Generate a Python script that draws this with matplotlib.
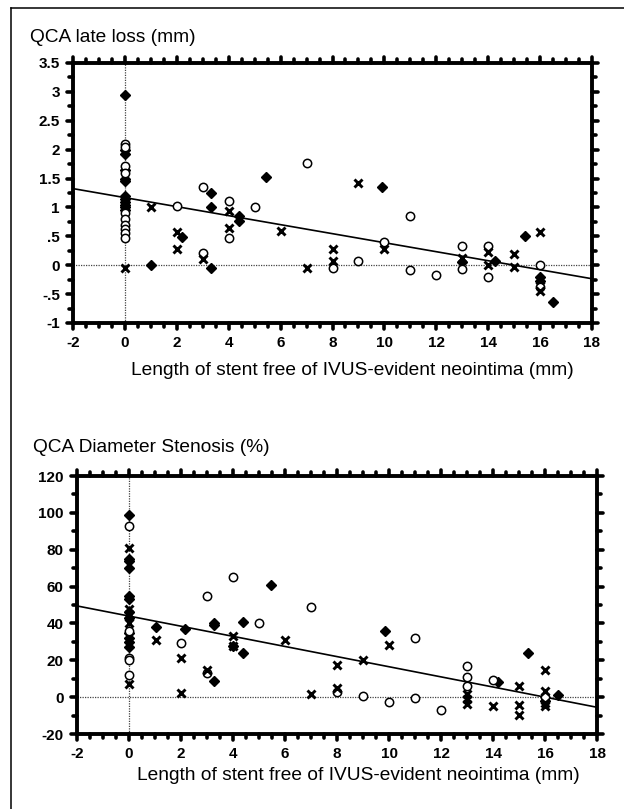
import numpy as np
import matplotlib
matplotlib.use("Agg")
import matplotlib.pyplot as plt
from matplotlib.lines import Line2D
from matplotlib.markers import MarkerStyle
from matplotlib.ticker import MultipleLocator

plt.rcParams['font.family'] = ['Liberation Sans', 'DejaVu Sans']
plt.rcParams['axes.unicode_minus'] = False

# ---- late loss panel (mm) ----
ll_diamond_x = [0, 0, 0, 0, 0, 0, 0, 0, 0, 0, 0, 0,
                1.0, 2.2, 3.3, 3.3, 3.3, 4.4, 4.4, 5.45, 9.9, 13.0, 14.25, 15.4, 16.0, 16.0, 16.5]
ll_diamond_y = [2.95, 2.0, 1.93, 1.65, 1.5, 1.45, 1.2, 1.15, 1.1, 1.05, 1.0, 0.95,
                0.0, 0.48, 1.25, 1.0, -0.05, 0.85, 0.77, 1.53, 1.35, 0.06, 0.07, 0.5, -0.2, -0.28, -0.63]
ll_circle_x = [0, 0, 0, 0, 0, 0, 0, 0, 0, 0,
               2.0, 3.0, 3.0, 4.0, 4.0, 5.0, 7.0, 8.0, 9.0, 10.0, 11.0, 11.0, 12.0,
               13.0, 13.0, 14.0, 14.0, 16.0, 16.0]
ll_circle_y = [2.1, 2.05, 1.72, 1.6, 0.9, 0.8, 0.7, 0.62, 0.55, 0.47,
               1.02, 1.35, 0.22, 1.12, 0.47, 1.0, 1.77, -0.04, 0.07, 0.4, 0.86, -0.09, -0.17,
               0.33, -0.06, 0.33, -0.2, 0.0, -0.37]
ll_cross_x = [0, 1.0, 2.0, 2.0, 3.0, 4.0, 4.0, 6.0, 7.0, 8.0, 8.0, 9.0, 10.0,
              13.0, 14.0, 14.0, 15.0, 15.0, 16.0, 16.0, 16.0]
ll_cross_y = [-0.05, 1.0, 0.57, 0.28, 0.1, 0.93, 0.64, 0.6, -0.05, 0.28, 0.07, 1.43, 0.28,
              0.13, 0.23, 0.0, 0.2, -0.03, 0.58, -0.45, -0.25]
ll_fit = (1.17, -0.078)  # intercept, slope
ll_yticks = [-1, -0.5, 0, 0.5, 1, 1.5, 2, 2.5, 3, 3.5]
ll_yticklabels = ['-1', '-.5', '0', '.5', '1', '1.5', '2', '2.5', '3', '3.5']

# ---- diameter stenosis panel (%) ----
ds_diamond_x = [0, 0, 0, 0, 0, 0, 0, 0, 0, 0, 0, 0,
                1.05, 2.15, 3.25, 3.25, 3.25, 4.0, 4.4, 4.4, 5.45, 9.85, 14.2, 15.35, 16.0, 16.5]
ds_diamond_y = [99, 75, 74, 70, 55, 53, 46, 43, 35, 32, 30, 27,
                38, 37, 40, 39, 9, 28, 41, 24, 61, 36, 8, 24, -2, 1]
ds_circle_x = [0, 0, 0, 0, 0,
               2.0, 3.0, 3.0, 4.0, 5.0, 7.0, 8.0, 9.0, 10.0, 11.0, 11.0, 12.0,
               13.0, 13.0, 13.0, 14.0, 16.0]
ds_circle_y = [93, 36, 21, 20, 12,
               29.5, 55, 13, 65, 40, 49, 3, 0.5, -2.5, 32, -0.5, -7,
               17, 11, 6, 9.5, 0]
ds_cross_x = [0, 0, 0, 0, 0,
              1.05, 2.0, 2.0, 3.0, 4.0, 4.0, 6.0, 7.0, 8.0, 8.0, 9.0, 10.0,
              13.0, 13.0, 13.0, 14.0, 15.0, 15.0, 15.0, 16.0, 16.0, 16.0, 16.0]
ds_cross_y = [81, 48, 45, 40, 7,
              31, 21.5, 2.5, 15, 33, 28, 31, 1.5, 17.5, 5, 20, 28.5,
              1.5, -1, -3.5, -5, 6, -4, -9.5, 14.5, 3.5, -3, -5]
ds_fit = (44.0, -2.75)
ds_yticks = [-20, 0, 20, 40, 60, 80, 100, 120]

x_ticks = [-2, 0, 2, 4, 6, 8, 10, 12, 14, 16, 18]
x_label = "Length of stent free of IVUS-evident neointima (mm)"

W, H = 624, 809
fig = plt.figure(figsize=(W / 100, H / 100), dpi=100)


def px_axes(left, top, right, bottom):
    return fig.add_axes([left / W, 1 - bottom / H, (right - left) / W, (bottom - top) / H])


def round_ticks(ax):
    # rounded tick ends, like the dotted ticks of the original
    for axis in (ax.xaxis, ax.yaxis):
        for t in axis.get_major_ticks() + axis.get_minor_ticks():
            for ln in (t.tick1line, t.tick2line):
                ln.set_marker(MarkerStyle(ln.get_marker(), capstyle='round'))


def draw_panel(ax, dx, dy, cx, cy, xx, xy, fit, ylim, yticks, yminor, ylabels=None):
    ax.axhline(0, color='#444444', lw=0.9, ls=(0, (1, 1)), zorder=1)
    ax.axvline(0, color='#444444', lw=0.9, ls=(0, (1, 1)), zorder=1)
    xs = np.array([-2, 18])
    ax.plot(xs, fit[0] + fit[1] * xs, color='black', lw=1.2, zorder=2)
    ax.plot(dx, dy, 'D', color='black', ms=5.0, ls='none', zorder=3)
    ax.plot(cx, cy, 'o', mfc='white', mec='black', mew=1.1, ms=6.0, ls='none', zorder=3)
    ax.plot(xx, xy, 'x', color='black', mew=2.1, ms=5.8, ls='none', zorder=4)
    ax.set_xlim(-2, 18)
    ax.set_ylim(*ylim)
    ax.set_xticks(x_ticks)
    ax.xaxis.set_minor_locator(MultipleLocator(0.5))
    ax.set_yticks(yticks)
    if ylabels is not None:
        ax.set_yticklabels(ylabels)
    ax.yaxis.set_minor_locator(MultipleLocator(yminor))
    for s in ax.spines.values():
        s.set_linewidth(2.8)
    ax.tick_params(which='both', direction='out', top=True, right=True, width=2.6)
    ax.tick_params(which='major', length=4.5, labelsize=11, pad=5)
    ax.tick_params(which='minor', length=3.2)
    for lab in ax.get_xticklabels() + ax.get_yticklabels():
        lab.set_fontweight('bold')
    round_ticks(ax)


ax1 = px_axes(73, 63, 592, 323)
draw_panel(ax1, ll_diamond_x, ll_diamond_y, ll_circle_x, ll_circle_y, ll_cross_x, ll_cross_y,
           ll_fit, (-1, 3.5), ll_yticks, 0.25, ll_yticklabels)

ax2 = px_axes(77, 476, 597, 734)
draw_panel(ax2, ds_diamond_x, ds_diamond_y, ds_circle_x, ds_circle_y, ds_cross_x, ds_cross_y,
           ds_fit, (-20, 120), ds_yticks, 10)

fig.text(30 / W, 1 - 42 / H, "QCA late loss (mm)", fontsize=13.8, va='baseline', ha='left')
fig.text(33 / W, 1 - 452 / H, "QCA Diameter Stenosis (%)", fontsize=13.8, va='baseline', ha='left')
fig.text(352 / W, 1 - 375 / H, x_label, fontsize=13.8, va='baseline', ha='center')
fig.text(358 / W, 1 - 780 / H, x_label, fontsize=13.8, va='baseline', ha='center')

# outer frame (left and top edges only visible)
fig.add_artist(Line2D([11 / W, 11 / W], [0, 1 - 8 / H], color='black', lw=1.1))
fig.add_artist(Line2D([11 / W, 1], [1 - 8 / H, 1 - 8 / H], color='black', lw=1.1))

fig.savefig("out.png", dpi=100)
